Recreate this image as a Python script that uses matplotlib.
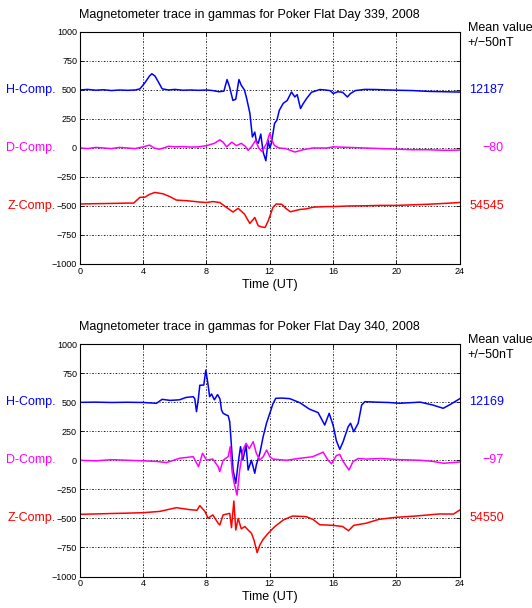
import numpy as np
import matplotlib
matplotlib.use("Agg")
from matplotlib import pyplot as plt

plt.rcParams['font.family'] = ['Liberation Sans', 'DejaVu Sans']

# ---- day 339 ----
t339_h = [0, 0.5, 1.0, 1.5, 2.0, 2.5, 3.0, 3.5, 3.8, 4.1, 4.4, 4.55, 4.75, 5.0, 5.2, 5.6, 6.0, 6.5, 7.0, 7.5,
          8.0, 8.4, 8.8, 9.1, 9.3, 9.45, 9.67, 9.85, 10.05, 10.2, 10.4, 10.55, 10.74, 10.9, 11.05, 11.15, 11.27,
          11.43, 11.58, 11.75, 11.9, 12.0, 12.1, 12.3, 12.45, 12.6, 12.85, 13.1, 13.37, 13.58, 13.73, 13.94, 14.1,
          14.32, 14.63, 15.16, 15.5, 15.8, 16.0, 16.3, 16.6, 16.9, 17.1, 17.4, 18.0, 18.7, 19.5, 20.0, 21.0, 22.0,
          23.0, 24.0]
h339 = [500, 505, 498, 502, 495, 500, 497, 500, 510, 560, 620, 640, 620, 560, 510, 500, 505, 498, 500, 497,
        500, 495, 485, 490, 590, 530, 410, 420, 590, 540, 500, 420, 300, 95, 137, 60, 40,
        120, -36, -110, 65, 0, 40, 212, 240, 325, 385, 410, 483, 440, 460, 340, 380,
        426, 480, 504, 500, 495, 470, 485, 480, 440, 470, 495, 505, 504, 500, 498, 495, 488,
        485, 482]

t339_d = [0, 0.5, 1, 1.5, 2, 2.5, 3, 3.5, 4.0, 4.4, 4.7, 5.0, 5.3, 5.6, 6.0, 6.5, 7.0, 7.5, 8.0, 8.5, 8.84,
          9.05, 9.27, 9.6, 9.9, 10.2, 10.45, 10.63, 10.84, 11.1, 11.3, 11.5, 11.8, 12.0, 12.15, 12.3, 12.6, 13.0,
          13.3, 13.58, 14.1, 14.7, 15.6, 16.0, 17, 18, 19, 20, 21, 22, 23, 24]
d339 = [0, -5, 5, 0, -5, 5, 0, -5, 10, 25, 0, -10, 0, 15, 10, 12, 8, 10, 20, 40, 70,
        50, 10, 50, 20, 40, 15, -20, 10, 65, 0, -30, 40, 128, 60, 20, 0, -5,
        -20, -35, -15, 0, 0, 10, 5, 0, -5, -10, -15, -15, -20, -18]

t339_z = [0, 1, 2, 3, 3.4, 3.8, 4.1, 4.4, 4.74, 5.26, 5.7, 6.1, 6.8, 7.58, 8.0, 8.4, 8.84, 9.26, 9.68, 10.0,
          10.4, 10.74, 11.05, 11.27, 11.48, 11.7, 11.9, 12.2, 12.4, 12.75, 13.0, 13.3, 13.9, 14.3, 14.74, 15.58,
          16.0, 17, 18, 19, 20, 21, 22, 23, 24]
z339 = [-483, -480, -478, -475, -475, -425, -425, -400, -383, -395, -420, -449, -455, -466, -470, -462, -470,
        -512, -552, -520, -570, -651, -599, -671, -680, -686, -628, -512, -483, -485, -520, -550, -530, -525,
        -510, -505, -505, -500, -498, -495, -495, -490, -485, -478, -470]

# ---- day 340 ----
t340_h = [0, 1, 2, 3, 4, 4.84, 5.2, 5.7, 6.3, 6.7, 7.16, 7.26, 7.37, 7.48, 7.58, 7.83, 7.96, 8.1, 8.2, 8.32,
          8.5, 8.7, 8.85, 8.95, 9.05, 9.26, 9.37, 9.47, 9.58, 9.68, 9.85, 10.0, 10.15, 10.3, 10.5, 10.63, 10.84,
          11.05, 11.15, 11.37, 11.58, 11.79, 12.0, 12.21, 12.38, 12.74, 13.26, 13.9, 14.5, 15.05, 15.47, 15.75,
          16.0, 16.2, 16.42, 16.63, 16.95, 17.1, 17.3, 17.58, 17.8, 18.0, 18.7, 19.5, 20.2, 21.5, 22.3, 22.95,
          23.4, 24]
h340 = [498, 500, 497, 499, 497, 490, 524, 515, 520, 540, 547, 530, 418, 520, 645, 647, 776, 650, 547, 570,
        520, 565, 528, 432, 404, 389, 383, 330, 117, -84, -198, -26, 117, 2, 130, -84, 0,
        -112, -40, 60, 203, 318, 404, 490, 533, 535, 530, 495, 440, 410, 303, 404,
        300, 170, 94, 160, 289, 318, 246, 318, 475, 504, 500, 497, 490, 500, 475, 447,
        480, 530]

t340_d = [0, 1, 2, 3, 4, 4.84, 5.47, 6.3, 7.16, 7.5, 7.75, 8.0, 8.4, 8.74, 8.84, 9.05, 9.37, 9.5, 9.62, 9.75,
          9.93, 10.1, 10.3, 10.5, 10.7, 10.95, 11.15, 11.37, 11.58, 11.8, 12.0, 12.2, 13.05, 13.9, 14.7, 15.37,
          15.68, 15.9, 16.2, 16.42, 16.63, 17.0, 17.26, 17.58, 18.1, 19, 20.2, 21.5, 22.3, 23, 23.5, 24]
d340 = [0, -5, 5, 0, -5, -10, -20, 17, 31, -55, 60, 2, 10, -55, -98, 0, 31, 117, -100, -198,
        -300, -84, 88, 146, 100, 160, 60, 2, 30, 88, 30, 10, 0, 17, 30, 70,
        0, -30, 40, 50, -10, -84, -10, 15, 10, 15, 5, 0, -10, -26, -20, -15]

t340_z = [0, 1, 2, 3, 4.0, 5.05, 6.1, 6.95, 7.4, 7.58, 7.9, 8.1, 8.4, 8.74, 8.84, 9.05, 9.47, 9.58, 9.73, 9.85,
          10.0, 10.2, 10.42, 10.63, 10.84, 11.0, 11.2, 11.37, 11.58, 11.9, 12.3, 12.85, 13.43, 14.3, 14.74, 15.16,
          15.58, 16.0, 16.6, 16.97, 17.3, 18.07, 18.9, 19.96, 21.2, 22.7, 23.6, 24]
z340 = [-465, -462, -458, -455, -451, -440, -408, -425, -430, -390, -440, -499, -470, -542, -557, -470, -457,
        -580, -350, -600, -500, -590, -570, -600, -628, -686, -795, -729, -680, -628, -572, -514, -480, -485,
        -510, -555, -557, -560, -570, -606, -560, -542, -508, -491, -480, -462, -463, -428]

days = [339, 340]
mean_h = ["12187", "12169"]
mean_d = ["\u221280", "\u221297"]
mean_z = ["54545", "54550"]
xticks = [0, 4, 8, 12, 16, 20, 24]
yticks = [-1000, -750, -500, -250, 0, 250, 500, 750, 1000]

panels = [
    (t339_h, h339, t339_d, d339, t339_z, z339),
    (t340_h, h340, t340_d, d340, t340_z, z340),
]

fig = plt.figure(figsize=(5.32, 6.08), dpi=100)
positions = [[0.150, 0.5658, 0.7143, 0.3816], [0.150, 0.0518, 0.7143, 0.3824]]

for i, (th, h, td, d, tz, z) in enumerate(panels):
    ax = fig.add_axes(positions[i])
    ax.plot(th, h, color='#0000ff', lw=1.1)
    ax.plot(td, d, color='#ff00ff', lw=1.1)
    ax.plot(tz, z, color='#ff0000', lw=1.1)
    ax.set_xlim(0, 24)
    ax.set_ylim(-1000, 1000)
    ax.set_xticks(xticks)
    ax.set_yticks(yticks)
    ax.tick_params(direction='in', top=True, right=True, length=3, width=0.6, labelsize=6.5, pad=2)
    ax.grid(True, color='k', linestyle=(0, (2, 2, 1, 2)), lw=0.6)
    for s in ax.spines.values():
        s.set_linewidth(0.8)
    ax.set_xlabel('Time (UT)', fontsize=9, labelpad=2)

    ax.text(0.447, 1.073, 'Magnetometer trace in gammas for Poker Flat Day %d, 2008' % days[i],
            transform=ax.transAxes, ha='center', va='center', fontsize=9)
    ax.text(1.021, 1.017, 'Mean value', transform=ax.transAxes, ha='left', va='center', fontsize=9)
    ax.text(1.021, 0.953, '+/\u221250nT', transform=ax.transAxes, ha='left', va='center', fontsize=9)

    tr = ax.get_yaxis_transform()
    ax.text(-0.064, 500, 'H-Comp.', transform=tr, ha='right', va='center', color='#0000ff', fontsize=9)
    ax.text(-0.064, 0, 'D-Comp.', transform=tr, ha='right', va='center', color='#ff00ff', fontsize=9)
    ax.text(-0.064, -500, 'Z-Comp.', transform=tr, ha='right', va='center', color='#ff0000', fontsize=9)
    ax.text(1.116, 500, mean_h[i], transform=tr, ha='right', va='center', color='#0000ff', fontsize=9)
    ax.text(1.116, 0, mean_d[i], transform=tr, ha='right', va='center', color='#ff00ff', fontsize=9)
    ax.text(1.116, -500, mean_z[i], transform=tr, ha='right', va='center', color='#ff0000', fontsize=9)

fig.savefig('out.png', dpi=100)
